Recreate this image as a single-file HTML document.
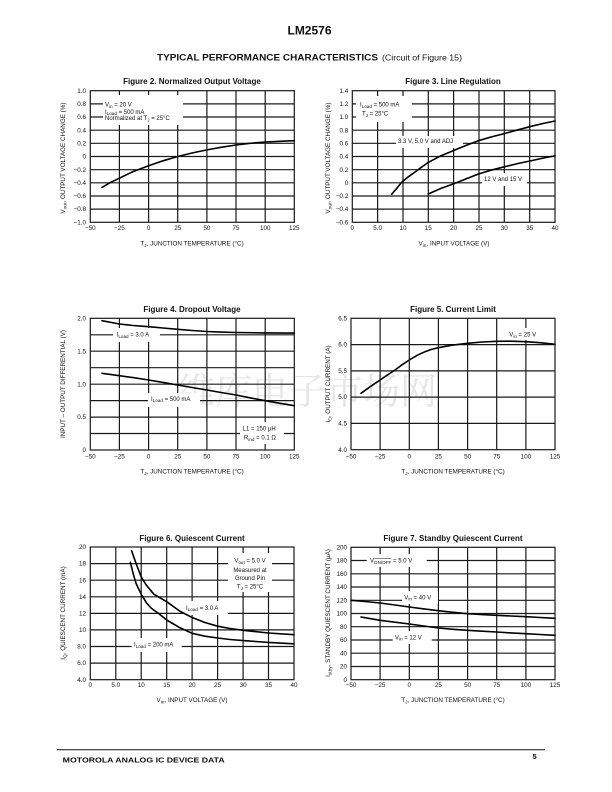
<!DOCTYPE html>
<html><head><meta charset="utf-8"><style>
html,body{margin:0;padding:0;background:#fff;}
svg{display:block;}
text{font-family:"Liberation Sans",Arial,sans-serif;fill:#111;}
.t{font-size:6.3px;}
.ti{font-size:8px;font-weight:bold;}
.g{stroke:#1a1a1a;stroke-width:1.2;fill:none;}
.c{stroke:#000;stroke-width:1.6;fill:none;stroke-linejoin:round;stroke-linecap:round;}
.w{fill:#fff;}
.lg{font-size:6px;}
</style></head><body>
<svg width="612" height="792" viewBox="0 0 612 792" xmlns="http://www.w3.org/2000/svg">
<rect width="612" height="792" fill="#fff"/>
<text x="178" y="404" style="font-family:'Noto Serif CJK SC','Noto Sans CJK SC',serif;font-size:37px;fill:#e6e6e6;">维库电子市场网</text>

<!-- Header -->
<text x="309.5" y="34.3" text-anchor="middle" style="font-size:12px;font-weight:bold;">LM2576</text>
<text x="157" y="60.7" style="font-size:9px;font-weight:bold;" textLength="221" lengthAdjust="spacingAndGlyphs">TYPICAL PERFORMANCE CHARACTERISTICS</text>
<text x="382" y="60.7" style="font-size:8px;" textLength="80" lengthAdjust="spacingAndGlyphs">(Circuit of Figure 15)</text>

<!-- ============ Figure 2 ============ -->
<text class="ti" x="192" y="84" text-anchor="middle">Figure 2. Normalized Output Voltage</text>
<g class="g">
<rect x="90.3" y="90.7" width="204" height="131.6"/>
<path d="M119.4 90.7V222.3M148.6 90.7V222.3M177.7 90.7V222.3M206.9 90.7V222.3M236 90.7V222.3M265.2 90.7V222.3
M90.3 103.9H294.3M90.3 117H294.3M90.3 130.2H294.3M90.3 143.3H294.3M90.3 156.5H294.3M90.3 169.7H294.3M90.3 182.8H294.3M90.3 196H294.3M90.3 209.1H294.3"/>
</g>
<rect class="w" x="103" y="95" width="80" height="30"/>
<text class="lg" x="105" y="106.5">V<tspan font-size="4.6" dy="1.4">in</tspan><tspan dy="-1.4"> = 20 V</tspan></text>
<text class="lg" x="105" y="113.8">I<tspan font-size="4.6" dy="1.4">Load</tspan><tspan dy="-1.4"> = 500 mA</tspan></text>
<text class="lg" x="105" y="120.2">Normalized at T<tspan font-size="4.6" dy="1.4">J</tspan><tspan dy="-1.4"> = 25°C</tspan></text>
<polyline class="c" points="102,187.4 110,182.7 119.4,178.2 133,171.6 148.6,165.7 163,160.8 177.7,156.5 192,153 206.9,149.9 221,147.3 236,145 250,143.3 265.2,142 280,141.3 294.3,140.7"/>
<g class="t" text-anchor="end">
<text x="86" y="92.8">1.0</text><text x="86" y="106">0.8</text><text x="86" y="119.1">0.6</text><text x="86" y="132.3">0.4</text><text x="86" y="145.4">0.2</text><text x="86" y="158.6">0</text><text x="86" y="171.8">−0.2</text><text x="86" y="184.9">−0.4</text><text x="86" y="198.1">−0.6</text><text x="86" y="211.2">−0.8</text><text x="86" y="224.4">−1.0</text>
</g>
<g class="t" text-anchor="middle">
<text x="90.3" y="230">−50</text><text x="119.4" y="230">−25</text><text x="148.6" y="230">0</text><text x="177.7" y="230">25</text><text x="206.9" y="230">50</text><text x="236" y="230">75</text><text x="265.2" y="230">100</text><text x="294.3" y="230">125</text>
<text x="192" y="245.5">T<tspan font-size="4.8" dy="1.4">J</tspan><tspan dy="-1.4">, JUNCTION TEMPERATURE (°C)</tspan></text>
<text x="65" y="158" transform="rotate(-90 65 158)">V<tspan font-size="4.8" dy="1.4">out</tspan><tspan dy="-1.4">, OUTPUT VOLTAGE CHANGE (%)</tspan></text>
</g>

<!-- ============ Figure 3 ============ -->
<text class="ti" x="453" y="84" text-anchor="middle">Figure 3. Line Regulation</text>
<g class="g">
<rect x="352.3" y="90.7" width="202.7" height="131.6"/>
<path d="M377.6 90.7V222.3M403 90.7V222.3M428.3 90.7V222.3M453.6 90.7V222.3M479 90.7V222.3M504.3 90.7V222.3M529.7 90.7V222.3
M352.3 103.9H555M352.3 117H555M352.3 130.2H555M352.3 143.3H555M352.3 156.5H555M352.3 169.7H555M352.3 182.8H555M352.3 196H555M352.3 209.1H555"/>
</g>
<rect class="w" x="356" y="96" width="56" height="26"/>
<rect class="w" x="396" y="136" width="67" height="12"/>
<rect class="w" x="482" y="173" width="45" height="13"/>
<text class="lg" x="360" y="106.5">I<tspan font-size="4.6" dy="1.4">Load</tspan><tspan dy="-1.4"> = 500 mA</tspan></text>
<text class="lg" x="362" y="115.5">T<tspan font-size="4.6" dy="1.4">J</tspan><tspan dy="-1.4"> = 25°C</tspan></text>
<text class="lg" x="398" y="143.2">3.3 V, 5.0 V and ADJ</text>
<text class="lg" x="484" y="181.2">12 V and 15 V</text>
<polyline class="c" points="391.6,194.3 397,188 402.3,181.6 409,176.3 415.6,171.6 422,166.8 428.3,162.4 441,155.7 455.2,149.9 467,145 478.5,140.7 491,137 504.8,133.5 518,129.8 531.7,126.2 543,123.5 555,121"/>
<polyline class="c" points="428.3,194 441,188.4 455.2,183.3 467,178.5 478.5,174 491,170.2 504.8,166.7 518,163.5 531.7,160.6 543,158.1 555,155.8"/>
<g class="t" text-anchor="end">
<text x="348.3" y="92.8">1.4</text><text x="348.3" y="106">1.2</text><text x="348.3" y="119.1">1.0</text><text x="348.3" y="132.3">0.8</text><text x="348.3" y="145.4">0.6</text><text x="348.3" y="158.6">0.4</text><text x="348.3" y="171.8">0.2</text><text x="348.3" y="184.9">0</text><text x="348.3" y="198.1">−0.2</text><text x="348.3" y="211.2">−0.4</text><text x="348.3" y="224.4">−0.6</text>
</g>
<g class="t" text-anchor="middle">
<text x="352.3" y="230">0</text><text x="377.6" y="230">5.0</text><text x="403" y="230">10</text><text x="428.3" y="230">15</text><text x="453.6" y="230">20</text><text x="479" y="230">25</text><text x="504.3" y="230">30</text><text x="529.7" y="230">35</text><text x="555" y="230">40</text>
<text x="454" y="245.5">V<tspan font-size="4.8" dy="1.4">in</tspan><tspan dy="-1.4">, INPUT VOLTAGE (V)</tspan></text>
<text x="330" y="158" transform="rotate(-90 330 158)">V<tspan font-size="4.8" dy="1.4">out</tspan><tspan dy="-1.4">, OUTPUT VOLTAGE CHANGE (%)</tspan></text>
</g>

<!-- ============ Figure 4 ============ -->
<text class="ti" x="192" y="312.2" text-anchor="middle">Figure 4. Dropout Voltage</text>
<g class="g">
<rect x="90.3" y="318.3" width="204" height="131.7"/>
<path d="M119.4 318.3V450M148.6 318.3V450M177.7 318.3V450M206.9 318.3V450M236 318.3V450M265.2 318.3V450
M90.3 334.8H294.3M90.3 351.2H294.3M90.3 367.7H294.3M90.3 384.2H294.3M90.3 400.6H294.3M90.3 417.1H294.3M90.3 433.5H294.3"/>
</g>
<rect class="w" x="113" y="328" width="47" height="14"/>
<rect class="w" x="148" y="393" width="52" height="14"/>
<rect class="w" x="240" y="422" width="44" height="22"/>
<text class="lg" x="116.7" y="336.5">I<tspan font-size="4.6" dy="1.4">Load</tspan><tspan dy="-1.4"> = 3.0 A</tspan></text>
<text class="lg" x="151" y="400.8">I<tspan font-size="4.6" dy="1.4">Load</tspan><tspan dy="-1.4"> = 500 mA</tspan></text>
<text class="lg" x="242.7" y="430.5">L1 = 150 µH</text>
<text class="lg" x="244" y="439.5">R<tspan font-size="4.6" dy="1.4">ind</tspan><tspan dy="-1.4"> = 0.1 Ω</tspan></text>
<polyline class="c" points="102,320.7 119.4,324 133,325.5 148.6,326.7 163,328 177.7,329.3 192,330.5 206.9,331.5 221,332.1 236,332.5 265.2,332.9 294.3,333.1"/>
<polyline class="c" points="102,373.3 119.4,375.7 133,377.6 148.6,380 163,382.4 177.7,385 192,387.5 206.9,390 221,392.5 236,395 250,397.8 265.2,400.7 280,403.3 294.3,405.7"/>
<g class="t" text-anchor="end">
<text x="86" y="320.4">2.0</text><text x="86" y="353.3">1.5</text><text x="86" y="386.3">1.0</text><text x="86" y="419.2">0.5</text><text x="86" y="452.1">0</text>
</g>
<g class="t" text-anchor="middle">
<text x="90.3" y="458.5">−50</text><text x="119.4" y="458.5">−25</text><text x="148.6" y="458.5">0</text><text x="177.7" y="458.5">25</text><text x="206.9" y="458.5">50</text><text x="236" y="458.5">75</text><text x="265.2" y="458.5">100</text><text x="294.3" y="458.5">125</text>
<text x="192" y="473.5">T<tspan font-size="4.8" dy="1.4">J</tspan><tspan dy="-1.4">, JUNCTION TEMPERATURE (°C)</tspan></text>
<text x="65" y="384" transform="rotate(-90 65 384)">INPUT – OUTPUT DIFFERENTIAL (V)</text>
</g>

<!-- ============ Figure 5 ============ -->
<text class="ti" x="453" y="312.2" text-anchor="middle">Figure 5. Current Limit</text>
<g class="g">
<rect x="351" y="318.3" width="204" height="131.4"/>
<path d="M380.1 318.3V449.7M409.3 318.3V449.7M438.4 318.3V449.7M467.6 318.3V449.7M496.7 318.3V449.7M525.9 318.3V449.7
M351 344.6H555M351 370.9H555M351 397.1H555M351 423.4H555"/>
</g>
<rect class="w" x="507" y="328" width="34" height="12"/>
<text class="lg" x="509.3" y="336.5">V<tspan font-size="4.6" dy="1.4">in</tspan><tspan dy="-1.4"> = 25 V</tspan></text>
<polyline class="c" points="361,393.3 370,386.8 380.1,380 388,374.6 395,370 402,364.8 409.3,360 417,355.4 425,351.7 431,349.5 438.4,347.7 452,345.2 467.6,343.3 482,342 496.7,341.3 511,341.2 525.9,341.7 540,342.7 555,344.3"/>
<g class="t" text-anchor="end">
<text x="347" y="320.4">6.5</text><text x="347" y="346.7">6.0</text><text x="347" y="373">5.5</text><text x="347" y="399.2">5.0</text><text x="347" y="425.5">4.5</text><text x="347" y="451.8">4.0</text>
</g>
<g class="t" text-anchor="middle">
<text x="351" y="458.5">−50</text><text x="380.1" y="458.5">−25</text><text x="409.3" y="458.5">0</text><text x="438.4" y="458.5">25</text><text x="467.6" y="458.5">50</text><text x="496.7" y="458.5">75</text><text x="525.9" y="458.5">100</text><text x="555" y="458.5">125</text>
<text x="453" y="473.5">T<tspan font-size="4.8" dy="1.4">J</tspan><tspan dy="-1.4">, JUNCTION TEMPERATURE (°C)</tspan></text>
<text x="330" y="384" transform="rotate(-90 330 384)">I<tspan font-size="4.8" dy="1.4">O</tspan><tspan dy="-1.4">, OUTPUT CURRENT (A)</tspan></text>
</g>

<!-- ============ Figure 6 ============ -->
<text class="ti" x="192" y="541" text-anchor="middle">Figure 6. Quiescent Current</text>
<g class="g">
<rect x="90.3" y="547" width="203.7" height="132.7"/>
<path d="M115.8 547V679.7M141.2 547V679.7M166.7 547V679.7M192.1 547V679.7M217.6 547V679.7M243.1 547V679.7M268.5 547V679.7
M90.3 563.6H294M90.3 580.2H294M90.3 596.8H294M90.3 613.4H294M90.3 629.9H294M90.3 646.5H294M90.3 663.1H294"/>
</g>
<rect class="w" x="228" y="553" width="44" height="39"/>
<rect class="w" x="183" y="601" width="45" height="14"/>
<rect class="w" x="131.7" y="638" width="50" height="14"/>
<g class="lg" text-anchor="middle">
<text x="250" y="562.5">V<tspan font-size="4.6" dy="1.4">out</tspan><tspan dy="-1.4"> = 5.0 V</tspan></text>
<text x="250" y="571.8">Measured at</text>
<text x="250" y="580.2">Ground Pin</text>
<text x="250" y="588.5">T<tspan font-size="4.6" dy="1.4">J</tspan><tspan dy="-1.4"> = 25°C</tspan></text>
</g>
<text class="lg" x="186" y="609.8">I<tspan font-size="4.6" dy="1.4">Load</tspan><tspan dy="-1.4"> = 3.0 A</tspan></text>
<text class="lg" x="134" y="646.5">I<tspan font-size="4.6" dy="1.4">Load</tspan><tspan dy="-1.4"> = 200 mA</tspan></text>
<polyline class="c" points="131.6,550.7 136.1,563.6 141.2,576.9 146.3,585.1 154,594.3 166.7,601.7 179.4,610.9 192.1,617.5 204.9,622.5 217.6,626.2 230,628.5 243.1,630.3 268.5,633 294,634.7"/>
<polyline class="c" points="130.3,562.3 133.6,575.2 136.1,583.5 141.2,594.3 146.3,602.6 151.4,608.4 158.5,613.4 166.7,620 179.4,627.5 192.1,633.3 204.9,636.2 217.6,638 230,639.5 243.1,640.6 268.5,642.4 294,643.8"/>
<g class="t" text-anchor="end">
<text x="86" y="549.1">20</text><text x="86" y="565.7">18</text><text x="86" y="582.3">16</text><text x="86" y="598.9">14</text><text x="86" y="615.5">12</text><text x="86" y="632">10</text><text x="86" y="648.6">8.0</text><text x="86" y="665.2">6.0</text><text x="86" y="681.8">4.0</text>
</g>
<g class="t" text-anchor="middle">
<text x="90.3" y="687">0</text><text x="115.8" y="687">5.0</text><text x="141.2" y="687">10</text><text x="166.7" y="687">15</text><text x="192.1" y="687">20</text><text x="217.6" y="687">25</text><text x="243.1" y="687">30</text><text x="268.5" y="687">35</text><text x="294" y="687">40</text>
<text x="192" y="702">V<tspan font-size="4.8" dy="1.4">in</tspan><tspan dy="-1.4">, INPUT VOLTAGE (V)</tspan></text>
<text x="65" y="613" transform="rotate(-90 65 613)">I<tspan font-size="4.8" dy="1.4">Q</tspan><tspan dy="-1.4">, QUIESCENT CURRENT (mA)</tspan></text>
</g>

<!-- ============ Figure 7 ============ -->
<text class="ti" x="453" y="541" text-anchor="middle">Figure 7. Standby Quiescent Current</text>
<g class="g">
<rect x="351" y="547.3" width="204" height="132.4"/>
<path d="M380.1 547.3V679.7M409.3 547.3V679.7M438.4 547.3V679.7M467.6 547.3V679.7M496.7 547.3V679.7M525.9 547.3V679.7
M351 560.5H555M351 573.8H555M351 587H555M351 600.3H555M351 613.5H555M351 626.7H555M351 640H555M351 653.2H555M351 666.5H555"/>
</g>
<rect class="w" x="366.7" y="554" width="60" height="13"/>
<rect class="w" x="402" y="591" width="36" height="13"/>
<rect class="w" x="392.7" y="631" width="39" height="13"/>
<text class="lg" x="370" y="562.5">V<tspan font-size="4.6" dy="1.4">ON/OFF</tspan><tspan dy="-1.4"> = 5.0 V</tspan></text>
<line x1="374.2" y1="558.4" x2="391" y2="558.4" stroke="#111" stroke-width="0.5"/>
<text class="lg" x="404.3" y="599.3">V<tspan font-size="4.6" dy="1.4">in</tspan><tspan dy="-1.4"> = 40 V</tspan></text>
<text class="lg" x="395" y="639.3">V<tspan font-size="4.6" dy="1.4">in</tspan><tspan dy="-1.4"> = 12 V</tspan></text>
<polyline class="c" points="351,600.3 365,601.5 380.1,603 395,605 409.3,607 424,608.9 438.4,610.7 453,612.3 467.6,613.7 482,614.6 496.7,615.3 511,616 525.9,616.7 540,617.5 555,618.3"/>
<polyline class="c" points="361,617 370,618.6 380.1,620.3 395,622.2 409.3,624 424,626 438.4,628 453,629.3 467.6,630.3 482,631.2 496.7,632 511,632.9 525.9,633.7 540,634.5 555,635.3"/>
<g class="t" text-anchor="end">
<text x="347" y="549.4">200</text><text x="347" y="562.6">180</text><text x="347" y="575.9">160</text><text x="347" y="589.1">140</text><text x="347" y="602.4">120</text><text x="347" y="615.6">100</text><text x="347" y="628.8">80</text><text x="347" y="642.1">60</text><text x="347" y="655.3">40</text><text x="347" y="668.6">20</text><text x="347" y="681.8">0</text>
</g>
<g class="t" text-anchor="middle">
<text x="351" y="687">−50</text><text x="380.1" y="687">−25</text><text x="409.3" y="687">0</text><text x="438.4" y="687">25</text><text x="467.6" y="687">50</text><text x="496.7" y="687">75</text><text x="525.9" y="687">100</text><text x="555" y="687">125</text>
<text x="453" y="702">T<tspan font-size="4.8" dy="1.4">J</tspan><tspan dy="-1.4">, JUNCTION TEMPERATURE (°C)</tspan></text>
<text x="330" y="613" transform="rotate(-90 330 613)">I<tspan font-size="4.8" dy="1.4">stby</tspan><tspan dy="-1.4">, STANDBY QUIESCENT CURRENT (µA)</tspan></text>
</g>

<!-- Footer -->
<line x1="57" y1="749.7" x2="545" y2="749.7" stroke="#111" stroke-width="1"/>
<text x="62.7" y="762.3" style="font-size:7.5px;font-weight:bold;" textLength="162" lengthAdjust="spacingAndGlyphs">MOTOROLA ANALOG IC DEVICE DATA</text>
<text x="532.5" y="759" style="font-size:7.5px;font-weight:bold;">5</text>
</svg>
</body></html>
